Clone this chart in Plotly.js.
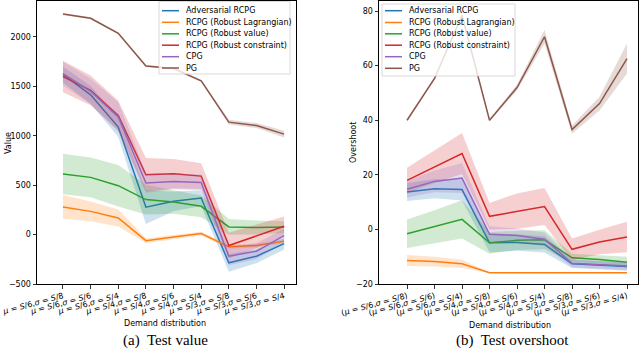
<!DOCTYPE html>
<html><head><meta charset="utf-8">
<script src="https://cdn.plot.ly/plotly-3.0.1.min.js"></script>
<style>html,body{margin:0;padding:0;background:#fff}#chart{width:640px;height:350px}</style>
</head><body><div id="chart"></div><script>
// ---------- data ----------
const seriesNames = ["Adversarial RCPG", "RCPG (Robust Lagrangian)", "RCPG (Robust value)", "RCPG (Robust constraint)", "CPG", "PG"];
const seriesColors = ["#1f77b4", "#ff7f0e", "#2ca02c", "#d62728", "#9467bd", "#8c564b"];
const bandColors = ["rgba(31,119,180,0.22)", "rgba(255,127,14,0.22)", "rgba(44,160,44,0.22)", "rgba(214,39,40,0.22)", "rgba(148,103,189,0.22)", "rgba(140,86,75,0.22)"];
const xIndex = [0, 1, 2, 3, 4, 5, 6, 7, 8];
const muLabels = ["6", "6", "6", "4", "4", "4", "3", "3", "3"];
const sigmaLabels = ["8", "6", "4", "8", "6", "4", "8", "6", "4"];

// Test value (left)
const valueAdversarial = [1620, 1414, 1088, 278, 337, 370, -286, -219, -91];
const valueAdversarialSpread = [80, 90, 100, 170, 100, 80, 90, 70, 60];
const valueLagrangian = [280, 235, 168, -61, -25, 10, -124, -111, -68];
const valueLagrangianSpread = [120, 100, 85, 25, 20, 20, 20, 20, 20];
const valueRobustValue = [613, 579, 495, 354, 330, 286, 78, 72, 76];
const valueRobustValueSpread = [205, 200, 210, 150, 120, 110, 80, 70, 60];
const valueRobustConstraint = [1600, 1460, 1205, 606, 616, 592, -111, -17, 84];
const valueRobustConstraintSpread = [160, 150, 150, 170, 150, 130, 130, 120, 100];
const valueCPG = [1630, 1450, 1190, 522, 538, 528, -219, -168, -10];
const valueCPGSpread = [120, 130, 150, 100, 80, 80, 90, 80, 70];
const valuePG = [2232, 2189, 2037, 1707, 1680, 1555, 1138, 1104, 1017];
const valuePGSpread = [10, 10, 10, 10, 10, 10, 25, 25, 35];

// Test overshoot (right)
const overAdversarial = [13.7, 14.9, 14.6, -4.9, -4.8, -5.5, -12.6, -13.0, -13.6];
const overAdversarialSpread = [3.3, 3.5, 4, 3.5, 3, 3, 1.5, 1.5, 1.5];
const overLagrangian = [-11.4, -11.8, -12.6, -15.9, -15.9, -15.9, -15.9, -15.9, -15.9];
const overLagrangianSpread = [2, 1.8, 1.5, 0.1, 0.1, 0.1, 0.1, 0.1, 0.1];
const overRobustValue = [-1.6, 1.0, 3.7, -4.9, -4.0, -3.8, -10.4, -11.0, -12.0];
const overRobustValueSpread = [5.2, 6, 7, 4, 3.5, 3.5, 1.5, 1.5, 2];
const overRobustConstraint = [18.0, 23.0, 27.8, 4.8, 6.7, 8.4, -7.3, -4.6, -2.8];
const overRobustConstraintSpread = [4.6, 6, 7.5, 4.9, 6.5, 6.8, 4.0, 4.5, 5.6];
const overCPG = [14.7, 17.6, 18.8, -1.8, -2.2, -3.6, -12.4, -12.8, -13.4];
const overCPGSpread = [3, 4, 5.5, 3, 2.5, 2.5, 1.5, 1.5, 1.5];
const overPG = [40.0, 55.3, 78.5, 40.0, 52.0, 70.6, 36.6, 46.1, 62.6];
const overPGSpread = [0.5, 0.5, 0.8, 0.5, 1, 2.5, 1.5, 2.5, 5.5];

const valueTicks = [-500, 0, 500, 1000, 1500, 2000];
const overTicks = [-20, 0, 20, 40, 60, 80];

const valueSeries = [[valueAdversarial, valueAdversarialSpread], [valueLagrangian, valueLagrangianSpread], [valueRobustValue, valueRobustValueSpread], [valueRobustConstraint, valueRobustConstraintSpread], [valueCPG, valueCPGSpread], [valuePG, valuePGSpread]];
const overSeries = [[overAdversarial, overAdversarialSpread], [overLagrangian, overLagrangianSpread], [overRobustValue, overRobustValueSpread], [overRobustConstraint, overRobustConstraintSpread], [overCPG, overCPGSpread], [overPG, overPGSpread]];

// ---------- build ----------
const W = 640, H = 350;
const px = x => x / W, py = y => 1 - y / H;
const FONT = "DejaVu Sans";

const valueLabels = xIndex.map(i => `<i>μ</i> = <i>S</i>/${muLabels[i]},<i>σ</i> = <i>S</i>/${sigmaLabels[i]}`);
const overLabels = xIndex.map(i => `(<i>μ</i> = <i>S</i>/${muLabels[i]},<i>σ</i> = <i>S</i>/${sigmaLabels[i]})`);

const traces = [];
function addSeries(series, xa, ya) {
  series.forEach(([m, s], k) => {
    const up = m.map((v, i) => v + s[i]);
    const lo = m.map((v, i) => v - s[i]);
    traces.push({x: xIndex.concat(xIndex.slice().reverse()), y: up.concat(lo.slice().reverse()),
      xaxis: xa, yaxis: ya, type: "scatter", mode: "lines", fill: "toself", fillcolor: bandColors[k],
      line: {width: 0}, hoverinfo: "skip", showlegend: false});
    traces.push({x: xIndex, y: m, xaxis: xa, yaxis: ya, type: "scatter", mode: "lines",
      line: {color: seriesColors[k], width: 1.5}, name: seriesNames[k], showlegend: false});
  });
}
addSeries(valueSeries, "x", "y");
addSeries(overSeries, "x2", "y2");

const axisCommon = {showline: true, mirror: true, linecolor: "#000", linewidth: 1, ticks: "outside",
  ticklen: 3.5, tickwidth: 0.8, tickcolor: "#000", showgrid: false, zeroline: false,
  tickfont: {family: FONT, size: 8, color: "#000"}};
const yDom = [py(284), py(1)];

const shapes = [], annotations = [];
function legend(x0, y0, x1, y1, lineX0, lineX1, textX, ys) {
  shapes.push({type: "rect", xref: "paper", yref: "paper", x0: px(x0), x1: px(x1), y0: py(y0), y1: py(y1),
    fillcolor: "rgba(255,255,255,0.8)", line: {color: "#d0d0d0", width: 0.8}, layer: "above"});
  seriesNames.forEach((n, k) => {
    shapes.push({type: "line", xref: "paper", yref: "paper", x0: px(lineX0), x1: px(lineX1), y0: py(ys[k]), y1: py(ys[k]),
      line: {color: seriesColors[k], width: 1.5}, layer: "above"});
    annotations.push({xref: "paper", yref: "paper", x: px(textX), y: py(ys[k]), xanchor: "left", yanchor: "middle",
      text: n, showarrow: false, font: {family: FONT, size: 8, color: "#000"}});
  });
}
legend(159, 1.5, 290, 74, 162, 179, 184, [10.7, 22.3, 33.8, 45.2, 56.7, 68]);
legend(382, 4, 515, 76, 385, 402, 407, [10.7, 22.5, 33.8, 45.2, 56.7, 68.3]);

function txt(text, x, y, size, family, angle) {
  annotations.push({xref: "paper", yref: "paper", x: px(x), y: py(y), xanchor: "center", yanchor: "middle",
    text, showarrow: false, textangle: angle || 0, font: {family, size, color: "#000"}});
}
txt("Value", 8, 143, 8, FONT, -90);
txt("Overshoot", 353, 143, 8, FONT, -90);
txt("Demand distribution", 165, 323, 8, FONT);
txt("Demand distribution", 510, 325, 8, FONT);
txt("(a)  Test value", 165, 340, 15, "Liberation Serif");
txt("(b)  Test overshoot", 512, 340, 15, "Liberation Serif");

const layout = {
  width: W, height: H, margin: {l: 0, r: 0, t: 0, b: 0}, paper_bgcolor: "#fff", plot_bgcolor: "#fff",
  showlegend: false,
  xaxis: Object.assign({}, axisCommon, {domain: [px(37), px(296)], range: [-0.94, 8.43], tickvals: xIndex, ticktext: valueLabels, tickangle: -15, anchor: "y"}),
  yaxis: Object.assign({}, axisCommon, {domain: yDom, range: [-500, 2364], tickvals: valueTicks, anchor: "x"}),
  xaxis2: Object.assign({}, axisCommon, {domain: [px(379), px(638)], range: [-1.02, 8.4], tickvals: xIndex, ticktext: overLabels, tickangle: -15, anchor: "y2"}),
  yaxis2: Object.assign({}, axisCommon, {domain: yDom, range: [-20, 83.7], tickvals: overTicks, anchor: "x2"}),
  shapes, annotations
};
Plotly.newPlot("chart", traces, layout, {displayModeBar: false, staticPlot: true});
</script></body></html>
